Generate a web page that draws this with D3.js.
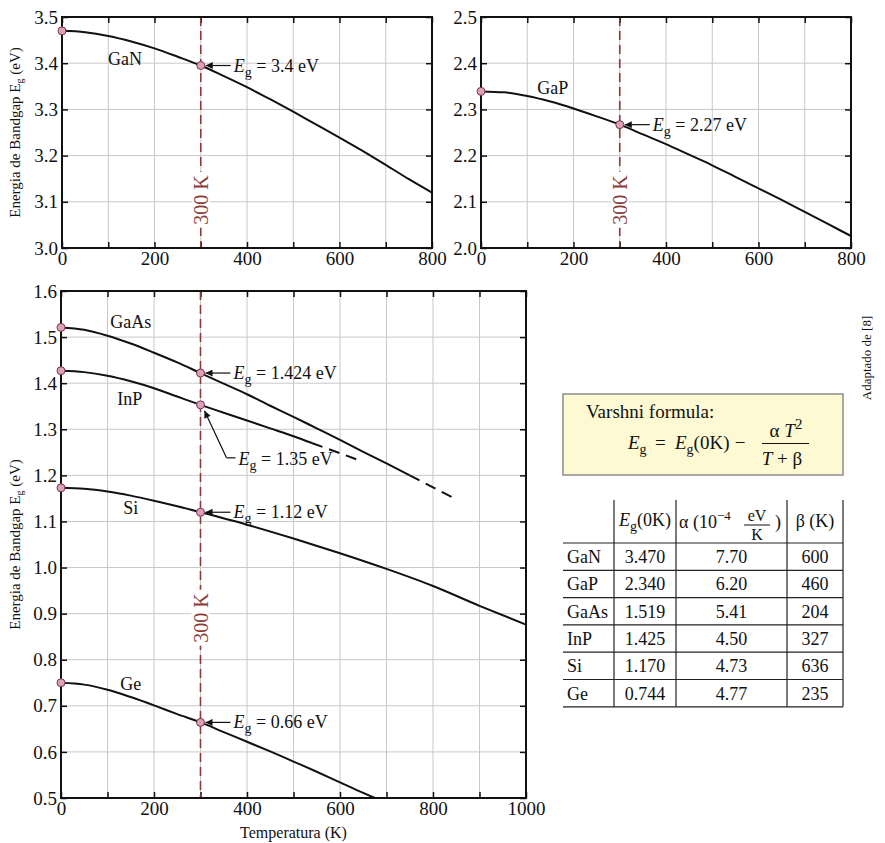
<!DOCTYPE html>
<html>
<head>
<meta charset="utf-8">
<script src="https://cdn.jsdelivr.net/npm/d3@7"></script>
<style>
  body { margin: 0; background: #fff; }
  svg text { font-family: "Liberation Serif", "Times New Roman", serif; fill: #111; }
</style>
</head>
<body>
<div id="chart"></div>
<script>
// ---- data ----
const gaNTemps = [0, 50, 100, 150, 200, 250, 300, 350, 400, 450, 500, 550, 600, 650, 700, 750, 800];
const gaNEg    = [3.470, 3.467, 3.459, 3.447, 3.432, 3.414, 3.395, 3.372, 3.348, 3.322, 3.295, 3.267, 3.239, 3.210, 3.180, 3.149, 3.120];

const gaPTemps = [0, 50, 100, 150, 200, 250, 300, 350, 400, 450, 500, 550, 600, 650, 700, 750, 800];
const gaPEg    = [2.339, 2.337, 2.329, 2.317, 2.302, 2.285, 2.267, 2.246, 2.225, 2.202, 2.179, 2.154, 2.129, 2.104, 2.078, 2.052, 2.026];

const gaAsTemps = [0, 50, 100, 150, 200, 250, 300, 350, 400, 450, 500, 550, 600, 650, 700, 750, 800, 850];
const gaAsEg    = [1.521, 1.516, 1.503, 1.486, 1.466, 1.445, 1.422, 1.399, 1.376, 1.351, 1.327, 1.302, 1.277, 1.251, 1.226, 1.200, 1.174, 1.148];

const inPTemps = [0, 50, 100, 150, 200, 250, 300, 350, 400, 450, 500, 540, 600, 645];
const inPEg    = [1.427, 1.424, 1.416, 1.404, 1.389, 1.371, 1.353, 1.336, 1.319, 1.302, 1.285, 1.270, 1.248, 1.231];

const siTemps = [0, 50, 100, 150, 200, 250, 300, 400, 500, 600, 700, 800, 900, 1000];
const siEg    = [1.173, 1.171, 1.165, 1.156, 1.145, 1.133, 1.120, 1.093, 1.063, 1.031, 0.997, 0.960, 0.917, 0.876];

const geTemps = [0, 50, 100, 150, 200, 250, 300, 350, 400, 450, 500, 550, 600, 650, 675];
const geEg    = [0.750, 0.746, 0.735, 0.719, 0.701, 0.682, 0.664, 0.643, 0.622, 0.601, 0.579, 0.557, 0.534, 0.511, 0.500];

// where the solid part of a curve turns dashed
const gaAsSolidMax = 750;
const inPSolidMax = 540;

// labels of the 300 K values
const eg300Labels = { GaN: '3.4', GaP: '2.27', GaAs: '1.424', InP: '1.35', Si: '1.12', Ge: '0.66' };

// axis ticks
const tempTicksTop = [0, 100, 200, 300, 400, 500, 600, 700, 800];
const tempLabelsTop = [0, 200, 400, 600, 800];
const tempTicksBottom = [0, 100, 200, 300, 400, 500, 600, 700, 800, 900, 1000];
const tempLabelsBottom = [0, 200, 400, 600, 800, 1000];
const egTicksGaN = [3.0, 3.1, 3.2, 3.3, 3.4, 3.5];
const egTicksGaP = [2.0, 2.1, 2.2, 2.3, 2.4, 2.5];
const egTicksLow = [0.5, 0.6, 0.7, 0.8, 0.9, 1.0, 1.1, 1.2, 1.3, 1.4, 1.5, 1.6];

// Varshni table
const tableMaterials = ['GaN', 'GaP', 'GaAs', 'InP', 'Si', 'Ge'];
const tableEg0   = ['3.470', '2.340', '1.519', '1.425', '1.170', '0.744'];
const tableAlpha = ['7.70', '6.20', '5.41', '4.50', '4.73', '4.77'];
const tableBeta  = ['600', '460', '204', '327', '636', '235'];

// ---- layout ----
const FONT = 18;      // names, notes, table
const TICK_FONT = 19;
const RED = '#8b3a3a';

const svg = d3.select('#chart').append('svg')
    .attr('width', 885)
    .attr('height', 843);

svg.append('defs').append('marker')
    .attr('id', 'arrow')
    .attr('viewBox', '0 0 10 10')
    .attr('refX', 10).attr('refY', 5)
    .attr('markerWidth', 13).attr('markerHeight', 7)
    .attr('markerUnits', 'userSpaceOnUse')
    .attr('orient', 'auto')
    .append('path')
    .attr('d', 'M0,0L10,5L0,10z')
    .attr('fill', '#111');

const panels = [
    {
        left: 62, top: 17, width: 370, height: 231,
        xMax: 800, yDomain: [3.0, 3.5],
        tempTicks: tempTicksTop, tempLabels: tempLabelsTop, egTicks: egTicksGaN,
        yTitle: true, markY: 200,
        series: [
            { name: 'GaN', temps: gaNTemps, eg: gaNEg, label: [136, 3.396] }
        ]
    },
    {
        left: 481, top: 17, width: 370, height: 231,
        xMax: 800, yDomain: [2.0, 2.5],
        tempTicks: tempTicksTop, tempLabels: tempLabelsTop, egTicks: egTicksGaP,
        yTitle: false, markY: 200,
        series: [
            { name: 'GaP', temps: gaPTemps, eg: gaPEg, label: [155, 2.333] }
        ]
    },
    {
        left: 61, top: 291, width: 465, height: 507,
        xMax: 1000, yDomain: [0.5, 1.6],
        tempTicks: tempTicksBottom, tempLabels: tempLabelsBottom, egTicks: egTicksLow,
        yTitle: true, xTitle: true, markY: 618,
        series: [
            { name: 'GaAs', temps: gaAsTemps, eg: gaAsEg, solidMax: gaAsSolidMax, label: [150, 1.520] },
            { name: 'InP', temps: inPTemps, eg: inPEg, solidMax: inPSolidMax, label: [148, 1.353], bent: true },
            { name: 'Si', temps: siTemps, eg: siEg, label: [150, 1.116] },
            { name: 'Ge', temps: geTemps, eg: geEg, label: [150, 0.734] }
        ]
    }
];

// E with subscript g, then the rest
function egSpans(text, rest, sub = 14) {
    text.append('tspan').attr('font-style', 'italic').text('E');
    text.append('tspan').attr('dy', 5).attr('font-size', sub).text('g');
    text.append('tspan').attr('dy', -5).text(rest);
}

function styleAxis(g, labels) {
    g.select('.domain').remove();
    g.selectAll('.tick line').attr('stroke', '#111').attr('stroke-width', 1.5);
    g.attr('font-size', TICK_FONT);
    if (!labels) g.selectAll('.tick text').remove();
}

function drawPanel(p) {
    const x = d3.scaleLinear([0, p.xMax], [0, p.width]);
    const y = d3.scaleLinear(p.yDomain, [p.height, 0]);
    const g = svg.append('g').attr('transform', `translate(${p.left}, ${p.top})`);

    // grid
    g.append('g').selectAll('line')
        .data(p.tempTicks.slice(1, -1))
        .join('line')
        .attr('x1', d => x(d)).attr('x2', d => x(d))
        .attr('y1', 0).attr('y2', p.height)
        .attr('stroke', '#c8c8c8').attr('stroke-width', 1);
    g.append('g').selectAll('line')
        .data(p.egTicks.slice(1, -1))
        .join('line')
        .attr('x1', 0).attr('x2', p.width)
        .attr('y1', d => y(d)).attr('y2', d => y(d))
        .attr('stroke', '#c8c8c8').attr('stroke-width', 1);

    // axes, ticks pointing inward
    g.append('g').attr('transform', `translate(0, ${p.height})`)
        .call(d3.axisBottom(x).tickValues(p.tempTicks).tickSize(-6).tickSizeOuter(0).tickPadding(4)
            .tickFormat(d => p.tempLabels.includes(d) ? d : ''))
        .call(a => styleAxis(a, true));
    g.append('g')
        .call(d3.axisTop(x).tickValues(p.tempTicks).tickSize(-6).tickSizeOuter(0))
        .call(a => styleAxis(a, false));
    g.append('g')
        .call(d3.axisLeft(y).tickValues(p.egTicks).tickSize(-6).tickSizeOuter(0).tickPadding(4)
            .tickFormat(d3.format('.1f')))
        .call(a => styleAxis(a, true));
    g.append('g').attr('transform', `translate(${p.width}, 0)`)
        .call(d3.axisRight(y).tickValues(p.egTicks).tickSize(-6).tickSizeOuter(0))
        .call(a => styleAxis(a, false));

    // 300 K marker line
    g.append('line')
        .attr('x1', x(300)).attr('x2', x(300))
        .attr('y1', 0).attr('y2', p.height)
        .attr('stroke', RED).attr('stroke-width', 1.6)
        .attr('stroke-dasharray', '9,5');
    const mk = g.append('g')
        .attr('transform', `translate(${x(300)}, ${p.markY - p.top}) rotate(-90)`);
    const mkText = mk.append('text')
        .attr('text-anchor', 'middle').attr('dy', '0.35em')
        .attr('font-size', 20).style('fill', RED)
        .text('300 K');
    const bb = mkText.node().getBBox();
    mk.insert('rect', 'text')
        .attr('x', bb.x - 3).attr('y', bb.y + 2)
        .attr('width', bb.width + 6).attr('height', bb.height - 4)
        .attr('fill', '#fff');

    // frame
    g.append('rect')
        .attr('width', p.width).attr('height', p.height)
        .attr('fill', 'none').attr('stroke', '#111').attr('stroke-width', 2);

    const line = d3.line()
        .x(d => x(d[0]))
        .y(d => y(d[1]))
        .curve(d3.curveMonotoneX);

    p.series.forEach(s => {
        const pts = s.temps.map((t, i) => [t, s.eg[i]]);
        const max = s.solidMax ?? Infinity;
        g.append('path')
            .attr('d', line(pts.filter(d => d[0] <= max)))
            .attr('fill', 'none').attr('stroke', '#111').attr('stroke-width', 2);
        if (s.solidMax != null) {
            g.append('path')
                .attr('d', line(pts.filter(d => d[0] >= max)))
                .attr('fill', 'none').attr('stroke', '#111').attr('stroke-width', 2)
                .attr('stroke-dasharray', '11,7');
        }

        // name
        g.append('text')
            .attr('x', x(s.label[0])).attr('y', y(s.label[1]))
            .attr('text-anchor', 'middle').attr('font-size', FONT)
            .text(s.name);

        // 300 K annotation
        const e300 = s.eg[s.temps.indexOf(300)];
        const px = x(300), py = y(e300);
        if (s.bent) {
            g.append('line')
                .attr('x1', px + 26).attr('y1', py + 53)
                .attr('x2', px + 4).attr('y2', py + 6)
                .attr('stroke', '#111').attr('stroke-width', 1.2)
                .attr('marker-end', 'url(#arrow)');
            g.append('line')
                .attr('x1', px + 26).attr('y1', py + 53)
                .attr('x2', px + 35).attr('y2', py + 53)
                .attr('stroke', '#111').attr('stroke-width', 1.2);
            g.append('text')
                .attr('x', px + 38).attr('y', py + 60)
                .attr('font-size', FONT)
                .call(t => egSpans(t, ` = ${eg300Labels[s.name]} eV`));
        } else {
            g.append('line')
                .attr('x1', px + 30).attr('y1', py)
                .attr('x2', px + 5).attr('y2', py)
                .attr('stroke', '#111').attr('stroke-width', 1.2)
                .attr('marker-end', 'url(#arrow)');
            g.append('text')
                .attr('x', px + 33).attr('y', py + 6)
                .attr('font-size', FONT)
                .call(t => egSpans(t, ` = ${eg300Labels[s.name]} eV`));
        }

        // dots at 0 K and 300 K
        g.append('g').selectAll('circle')
            .data([[0, s.eg[0]], [300, e300]])
            .join('circle')
            .attr('cx', d => x(d[0])).attr('cy', d => y(d[1]))
            .attr('r', 4)
            .attr('fill', '#dca0b9').attr('stroke', '#7a3550').attr('stroke-width', 1);
    });

    // axis titles
    if (p.yTitle) {
        g.append('text')
            .attr('transform', `translate(${20 - p.left}, ${p.height / 2}) rotate(-90)`)
            .attr('text-anchor', 'middle').attr('font-size', 15)
            .call(t => {
                t.append('tspan').text('Energia de Bandgap E');
                t.append('tspan').attr('dy', 3).attr('font-size', 10).text('g');
                t.append('tspan').attr('dy', -3).text(' (eV)');
            });
    }
    if (p.xTitle) {
        g.append('text')
            .attr('x', p.width / 2).attr('y', 838 - p.top)
            .attr('text-anchor', 'middle').attr('font-size', 16)
            .text('Temperatura (K)');
    }
}

panels.forEach(drawPanel);

// ---- Varshni formula box ----
const box = svg.append('g');
box.append('rect')
    .attr('x', 563).attr('y', 394).attr('width', 280).attr('height', 81)
    .attr('fill', '#fcf9d3').attr('stroke', '#8c8c8c').attr('stroke-width', 1.5);
box.append('text').attr('x', 586).attr('y', 418).attr('font-size', 19).text('Varshni formula:');
box.append('text').attr('x', 628).attr('y', 449).attr('font-size', 19)
    .call(t => egSpans(t, '', 14));
box.append('text').attr('x', 655).attr('y', 449).attr('font-size', 19).text('=');
box.append('text').attr('x', 675).attr('y', 449).attr('font-size', 19)
    .call(t => egSpans(t, '(0K)', 14));
box.append('text').attr('x', 740).attr('y', 449).attr('font-size', 19).attr('text-anchor', 'middle').text('\u2212');
box.append('text').attr('x', 786).attr('y', 437).attr('font-size', 19).attr('text-anchor', 'middle')
    .call(t => {
        t.append('tspan').text('\u03b1 ');
        t.append('tspan').attr('font-style', 'italic').text('T');
        t.append('tspan').attr('dy', -8).attr('font-size', 15).text('2');
    });
box.append('line').attr('x1', 762).attr('x2', 809).attr('y1', 443.5).attr('y2', 443.5)
    .attr('stroke', '#111').attr('stroke-width', 1.2);
box.append('text').attr('x', 782).attr('y', 465).attr('font-size', 19).attr('text-anchor', 'middle')
    .call(t => {
        t.append('tspan').attr('font-style', 'italic').text('T');
        t.append('tspan').text(' + \u03b2');
    });

// ---- parameter table ----
const colX = [563, 614, 676, 787, 843];
const tableTop = 500, headBottom = 543, rowH = 27.3;
const tbl = svg.append('g');
colX.slice(1).forEach(cx => {
    tbl.append('line')
        .attr('x1', cx).attr('x2', cx)
        .attr('y1', tableTop).attr('y2', headBottom + rowH * tableMaterials.length)
        .attr('stroke', '#222').attr('stroke-width', 1.2);
});
d3.range(tableMaterials.length + 1).forEach(i => {
    tbl.append('line')
        .attr('x1', colX[0]).attr('x2', colX[4])
        .attr('y1', headBottom + rowH * i).attr('y2', headBottom + rowH * i)
        .attr('stroke', '#222').attr('stroke-width', 1.2);
});
// header
tbl.append('text').attr('x', 645).attr('y', 526).attr('text-anchor', 'middle').attr('font-size', FONT)
    .call(t => egSpans(t, '(0K)', 14));
tbl.append('text').attr('x', 679).attr('y', 528).attr('font-size', FONT)
    .call(t => {
        t.append('tspan').text('\u03b1 (10');
        t.append('tspan').attr('dy', -8).attr('font-size', 13).text('\u22124');
    });
tbl.append('text').attr('x', 757).attr('y', 521).attr('text-anchor', 'middle').attr('font-size', 16).text('eV');
tbl.append('line').attr('x1', 744).attr('x2', 770).attr('y1', 525).attr('y2', 525)
    .attr('stroke', '#111').attr('stroke-width', 1);
tbl.append('text').attr('x', 757).attr('y', 540).attr('text-anchor', 'middle').attr('font-size', 16).text('K');
tbl.append('text').attr('x', 775).attr('y', 528).attr('font-size', FONT).text(')');
tbl.append('text').attr('x', 815).attr('y', 527).attr('text-anchor', 'middle').attr('font-size', FONT).text('\u03b2 (K)');
// rows
tableMaterials.forEach((m, i) => {
    const by = headBottom + rowH * i + 20;
    tbl.append('text').attr('x', 567).attr('y', by).attr('font-size', FONT).text(m);
    tbl.append('text').attr('x', 645).attr('y', by).attr('text-anchor', 'middle').attr('font-size', FONT).text(tableEg0[i]);
    tbl.append('text').attr('x', 731.5).attr('y', by).attr('text-anchor', 'middle').attr('font-size', FONT).text(tableAlpha[i]);
    tbl.append('text').attr('x', 815).attr('y', by).attr('text-anchor', 'middle').attr('font-size', FONT).text(tableBeta[i]);
});

// source note
svg.append('text')
    .attr('transform', 'translate(871, 358) rotate(-90)')
    .attr('text-anchor', 'middle').attr('font-size', 13)
    .text('Adaptado de [8]');
</script>
</body>
</html>
